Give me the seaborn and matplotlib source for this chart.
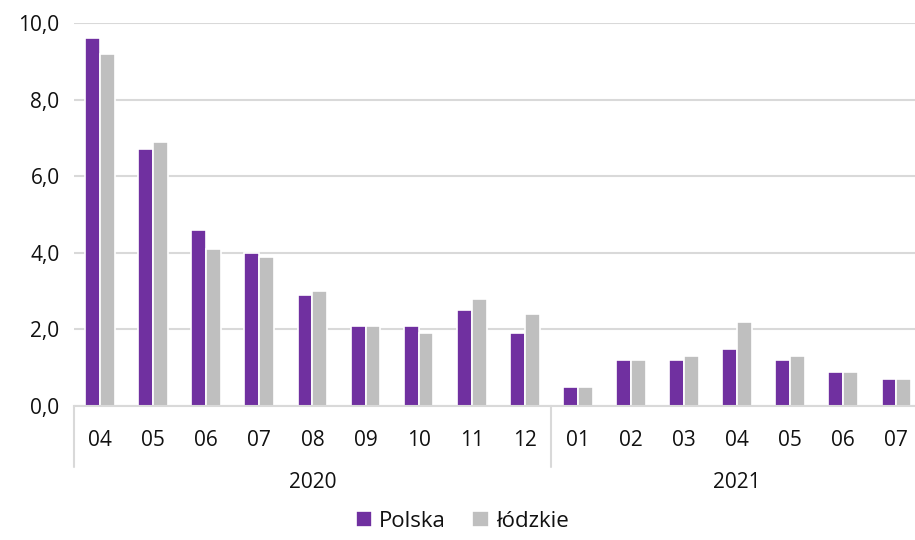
import matplotlib
matplotlib.use("Agg")
import matplotlib.pyplot as plt
import matplotlib.transforms as mtransforms
import seaborn as sns
import pandas as pd

months = ["04", "05", "06", "07", "08", "09", "10", "11", "12",
          "01", "02", "03", "04", "05", "06", "07"]
years = ["2020", "2021"]
year_counts = [9, 7]
polska = [9.6, 6.7, 4.6, 4.0, 2.9, 2.1, 2.1, 2.5, 1.9,
          0.5, 1.2, 1.2, 1.5, 1.2, 0.9, 0.7]
lodzkie = [9.2, 6.9, 4.1, 3.9, 3.0, 2.1, 1.9, 2.8, 2.4,
           0.5, 1.2, 1.3, 2.2, 1.3, 0.9, 0.7]
series_names = ["Polska", "łódzkie"]
colors = ["#7030A0", "#BFBFBF"]
yticks = [0, 2, 4, 6, 8, 10]
ytick_labels = ["0,0", "2,0", "4,0", "6,0", "8,0", "10,0"]

keys = [f"{i:02d}" for i in range(len(months))]
df = pd.DataFrame({
    "key": keys * 2,
    "value": polska + lodzkie,
    "series": [series_names[0]] * len(keys) + [series_names[1]] * len(keys),
})

sns.set_theme(style="white")
plt.rcParams["font.family"] = ["Open Sans", "DejaVu Sans"]

FS = 15
TC = "#111111"

fig = plt.figure(figsize=(9.15, 5.4), dpi=100)
ax = fig.add_axes([73.5 / 915, 1 - 406 / 540, 1 - 73.5 / 915, (406 - 23) / 540])

sns.barplot(data=df, x="key", y="value", hue="series", order=keys,
            hue_order=series_names, palette=colors, saturation=1, width=0.56,
            edgecolor="white", linewidth=1.2, ax=ax, legend=True)

ax.set_ylim(0, 10)
ax.set_xlim(-0.5, 15.35)
ax.set_yticks(yticks)
ax.set_yticklabels(ytick_labels, fontsize=FS, color=TC)
ax.set_xticks(range(len(months)))
ax.set_xticklabels(months, fontsize=FS, color=TC)
ax.tick_params(axis="both", length=0)
ax.tick_params(axis="x", pad=17)
ax.tick_params(axis="y", pad=10)
ax.set_xlabel("")
ax.set_ylabel("")
ax.yaxis.grid(True, color="#D9D9D9", linewidth=1.5)
ax.set_axisbelow(True)
for s in ["top", "right", "left"]:
    ax.spines[s].set_visible(False)
ax.spines["bottom"].set_color("#D9D9D9")
ax.spines["bottom"].set_linewidth(1.5)

trans = mtransforms.blended_transform_factory(ax.transData, ax.transAxes)
start = 0
bounds = [-0.5]
for yr, cnt in zip(years, year_counts):
    center = start + (cnt - 1) / 2
    ax.text(center, -0.2, yr, transform=trans, ha="center", va="center",
            fontsize=FS, color=TC)
    start += cnt
    bounds.append(start - 0.5)
for b in bounds[:-1]:
    ax.plot([b, b], [0, -0.16], transform=trans, color="#D9D9D9",
            linewidth=1.5, clip_on=False)

handles, labels = ax.get_legend_handles_labels()
ax.get_legend().remove()
fig.legend(handles, labels, loc="lower center", bbox_to_anchor=(0.505, -0.022),
           ncol=2, frameon=False, fontsize=16, handlelength=0.75,
           handleheight=0.75, handletextpad=0.3, columnspacing=1.2,
           labelcolor=TC)

fig.savefig("out.png", dpi=100)
